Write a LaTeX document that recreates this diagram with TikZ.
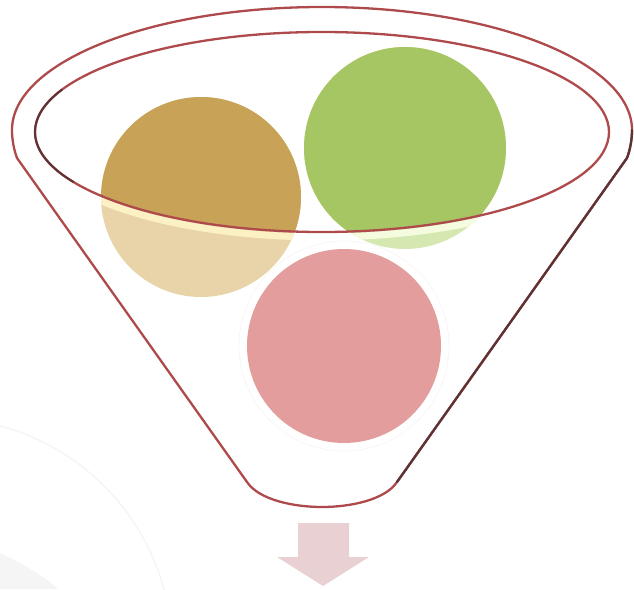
\documentclass[tikz,border=0pt]{standalone}
\usetikzlibrary{calc}
\definecolor{brownC}{HTML}{C8A257}
\definecolor{brownL}{HTML}{E8D4A8}
\definecolor{brownH}{HTML}{FBF1C4}
\definecolor{greenC}{HTML}{A5C662}
\definecolor{greenL}{HTML}{D6E8B2}
\definecolor{greenH}{HTML}{F4FBDF}
\definecolor{pinkC}{HTML}{E39D9D}
\definecolor{arrowC}{HTML}{E9D0D2}
\definecolor{rimC}{HTML}{AE4A4B}
\definecolor{rimD}{HTML}{5E3333}
\definecolor{faint}{HTML}{F5F5F5}
\tikzset{
  rim/.style={draw=rimC, line width=2.3pt, line join=round},
  rimdark/.style={draw=rimD, line width=2.3pt, line cap=round},
}
\begin{document}
\begin{tikzpicture}[x=1pt,y=1pt,yscale=-1]
\useasboundingbox (0,0) rectangle (634,589);
% faint background
\fill[faint] (0,553) .. controls (25,565) and (45,577) .. (58,589) -- (0,589) -- cycle;
\draw[faint, line width=1.5pt] (-60,650) ++(-90:232) arc[start angle=-90, end angle=20, radius=232];
% named coordinates
\coordinate (bc) at (201,197);
\coordinate (gc) at (405,148);
\coordinate (pc) at (344,346);
\coordinate (ec) at (322,132);
% pink circle with faint halo
\draw[gray!7, line width=0.8pt] (pc) circle[radius=105];
\fill[pinkC] (pc) circle[radius=97];
% brown circle
\fill[brownL] (bc) circle[radius=100];
\begin{scope}
  \clip (ec) ellipse[x radius=287, y radius=100];
  \fill[brownC] (bc) circle[radius=100];
\end{scope}
\begin{scope}
  \clip (bc) circle[radius=100];
  \clip (0,150) rectangle (634,300);
  \draw[brownH, line width=7pt] (322,137) ellipse[x radius=287, y radius=100];
\end{scope}
% green circle
\fill[greenL] (gc) circle[radius=101];
\begin{scope}
  \clip (ec) ellipse[x radius=287, y radius=100];
  \fill[greenC] (gc) circle[radius=101];
\end{scope}
\begin{scope}
  \clip (gc) circle[radius=101];
  \clip (0,150) rectangle (634,300);
  \draw[greenH, line width=7pt] (322,137) ellipse[x radius=287, y radius=100];
\end{scope}
% funnel outline
\draw[rim] (12,130) arc[start angle=180, end angle=360, x radius=310, y radius=123]
  .. controls (632,140) and (630,150) .. (627,158)
  -- (397,482)
  .. controls (385,500) and (350,507) .. (322,507)
  .. controls (294,507) and (259,500) .. (247,482)
  -- (17,158)
  .. controls (14,150) and (12,140) .. (12,130) -- cycle;
\draw[rimdark] (632,130) .. controls (632,140) and (630,150) .. (627,158) -- (397,482);
% inner rim
\draw[rim] (ec) ellipse[x radius=287, y radius=100];
\draw[rimdark, line width=2pt] (ec) ++(150:287 and 100) arc[start angle=150, end angle=205, x radius=287, y radius=100];
% arrow
\fill[arrowC] (298,523) -- (349,523) -- (349,557) -- (369,557) -- (323,586) -- (277,557) -- (298,557) -- cycle;
\end{tikzpicture}
\end{document}
